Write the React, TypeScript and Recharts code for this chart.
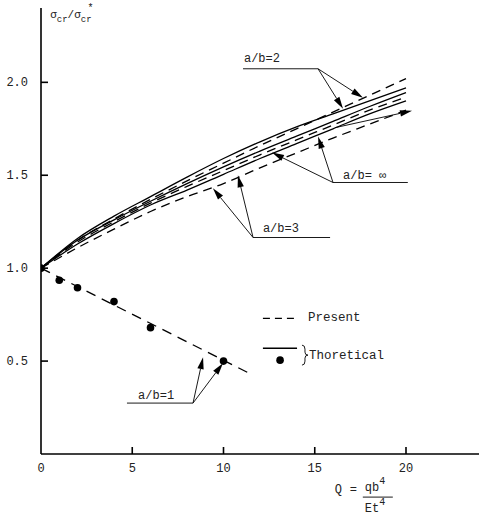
import React from 'react';
import { ComposedChart, Line, Scatter, XAxis, YAxis, ReferenceLine, ReferenceDot } from 'recharts';

// ---- data ----
const qValues = [0, 2, 4, 6, 8, 10, 12, 14, 16, 18, 20];
const ab2Present = [1.0, 1.15, 1.265, 1.37, 1.47, 1.565, 1.66, 1.75, 1.84, 1.93, 2.02];
const ab2Theory = [1.0, 1.16, 1.28, 1.385, 1.49, 1.59, 1.68, 1.76, 1.83, 1.9, 1.97];
const abInfTheory = [1.0, 1.15, 1.26, 1.36, 1.455, 1.545, 1.63, 1.71, 1.79, 1.87, 1.945];
const abInfPresent = [1.0, 1.14, 1.25, 1.35, 1.44, 1.525, 1.61, 1.69, 1.77, 1.85, 1.92];
const ab3Theory = [1.0, 1.13, 1.24, 1.34, 1.42, 1.505, 1.59, 1.67, 1.75, 1.83, 1.9];
const ab3Present = [1.0, 1.11, 1.21, 1.305, 1.385, 1.455, 1.54, 1.62, 1.7, 1.775, 1.85];

const ab1PresentQ = [0, 11.5];
const ab1Present = [1.0, 0.43];
const ab1TheoryQ = [0, 1, 2, 4, 6, 10];
const ab1Theory = [1.0, 0.935, 0.895, 0.82, 0.68, 0.5];

const xTicks = [0, 5, 10, 15, 20];
const yTicks = [0.5, 1.0, 1.5, 2.0];

const curveData = qValues.map((q, i) => ({
  q,
  ab2P: ab2Present[i],
  ab2T: ab2Theory[i],
  abInfT: abInfTheory[i],
  abInfP: abInfPresent[i],
  ab3T: ab3Theory[i],
  ab3P: ab3Present[i],
}));
const ab1LineData = ab1PresentQ.map((q, i) => ({ q, v: ab1Present[i] }));
const ab1DotData = ab1TheoryQ.map((q, i) => ({ q, v: ab1Theory[i] }));

// ---- annotation layout (in chart value units) ----
const FONT = '"Liberation Mono", "DejaVu Sans Mono", monospace';
const INK = '#222';

type Pt = { x: number; y: number };
const underlines: [Pt, Pt][] = [
  [{ x: 11.07, y: 2.073 }, { x: 15.18, y: 2.073 }],
  [{ x: 16.0, y: 1.461 }, { x: 20.1, y: 1.461 }],
  [{ x: 11.62, y: 1.165 }, { x: 15.84, y: 1.165 }],
  [{ x: 4.71, y: 0.274 }, { x: 8.33, y: 0.274 }],
];
const arrows: [Pt, Pt][] = [
  [{ x: 15.18, y: 2.073 }, { x: 17.64, y: 1.917 }],
  [{ x: 15.18, y: 2.073 }, { x: 16.55, y: 1.858 }],
  [{ x: 16.0, y: 1.461 }, { x: 12.66, y: 1.622 }],
  [{ x: 16.0, y: 1.461 }, { x: 15.18, y: 1.708 }],
  [{ x: 16.11, y: 1.756 }, { x: 20.33, y: 1.847 }],
  [{ x: 11.62, y: 1.165 }, { x: 9.42, y: 1.43 }],
  [{ x: 11.62, y: 1.165 }, { x: 10.79, y: 1.5 }],
  [{ x: 8.33, y: 0.274 }, { x: 8.88, y: 0.521 }],
  [{ x: 8.33, y: 0.274 }, { x: 9.97, y: 0.489 }],
];
const labels: { x: number; y: number; text: string }[] = [
  { x: 11.12, y: 2.132, text: 'a/b=2' },
  { x: 16.55, y: 1.5, text: 'a/b= ∞' },
  { x: 12.16, y: 1.214, text: 'a/b=3' },
  { x: 5.32, y: 0.317, text: 'a/b=1' },
];

const Arrow = (props: any) => {
  const { x1, y1, x2, y2 } = props;
  const dx = x2 - x1;
  const dy = y2 - y1;
  const len = Math.hypot(dx, dy) || 1;
  const ux = dx / len;
  const uy = dy / len;
  const L = 12;
  const W = 3.2;
  const bx = x2 - ux * L;
  const by = y2 - uy * L;
  const pts = `${x2},${y2} ${bx - uy * W},${by + ux * W} ${bx + uy * W},${by - ux * W}`;
  return (
    <g>
      <line x1={x1} y1={y1} x2={bx} y2={by} stroke="#000" strokeWidth={0.9} />
      <polygon points={pts} fill="#000" />
    </g>
  );
};

const XTick = (props: any) => {
  const { x, y, payload } = props;
  return (
    <g>
      {payload.value !== 0 && <line x1={x} y1={y} x2={x} y2={y - 7} stroke="#000" strokeWidth={1.6} />}
      <text x={x} y={y + 18} textAnchor="middle" fontFamily={FONT} fontSize={12} fill={INK}>
        {String(payload.value)}
      </text>
    </g>
  );
};

const YTick = (props: any) => {
  const { x, y, payload } = props;
  return (
    <g>
      <line x1={x} y1={y} x2={x + 7} y2={y} stroke="#000" strokeWidth={1.6} />
      <text x={x - 13} y={y + 4} textAnchor="end" fontFamily={FONT} fontSize={12} fill={INK}>
        {Number(payload.value).toFixed(1)}
      </text>
    </g>
  );
};

const Dot = (p: any) => <circle cx={p.cx} cy={p.cy} r={3.8} fill="#000" />;

export default function App() {
  return (
    <div style={{ position: 'absolute', left: 0, top: 0 }}>
      <ComposedChart width={479} height={520} margin={{ top: 8, right: 0, bottom: 0, left: 0 }}>
        <XAxis
          dataKey="q"
          type="number"
          domain={[0, 24]}
          ticks={xTicks}
          interval={0}
          height={66}
          tickLine={false}
          tickSize={0}
          tickMargin={0}
          axisLine={{ stroke: '#000', strokeWidth: 1.6 }}
          tick={<XTick />}
          allowDataOverflow
        />
        <YAxis
          type="number"
          domain={[0, 2.4]}
          ticks={yTicks}
          interval={0}
          width={41}
          tickLine={false}
          tickSize={0}
          tickMargin={0}
          axisLine={{ stroke: '#000', strokeWidth: 1.6 }}
          tick={<YTick />}
          allowDataOverflow
        />

        <Line data={curveData} dataKey="ab2P" type="monotone" stroke="#000" strokeWidth={1.3} strokeDasharray="9 6" dot={false} activeDot={false} isAnimationActive={false} />
        <Line data={curveData} dataKey="ab2T" type="monotone" stroke="#000" strokeWidth={1.3} dot={false} activeDot={false} isAnimationActive={false} />
        <Line data={curveData} dataKey="abInfT" type="monotone" stroke="#000" strokeWidth={1.3} dot={false} activeDot={false} isAnimationActive={false} />
        <Line data={curveData} dataKey="abInfP" type="monotone" stroke="#000" strokeWidth={1.3} strokeDasharray="9 6" dot={false} activeDot={false} isAnimationActive={false} />
        <Line data={curveData} dataKey="ab3T" type="monotone" stroke="#000" strokeWidth={1.3} dot={false} activeDot={false} isAnimationActive={false} />
        <Line data={curveData} dataKey="ab3P" type="monotone" stroke="#000" strokeWidth={1.3} strokeDasharray="9 6" dot={false} activeDot={false} isAnimationActive={false} />

        <Line data={ab1LineData} dataKey="v" type="linear" stroke="#000" strokeWidth={1.3} strokeDasharray="10 7" dot={false} activeDot={false} isAnimationActive={false} />
        <Scatter data={ab1DotData} dataKey="v" shape={Dot} isAnimationActive={false} />

        {underlines.map((seg, i) => (
          <ReferenceLine key={`u${i}`} segment={seg} stroke="#000" strokeWidth={0.9} ifOverflow="visible" />
        ))}
        {arrows.map((seg, i) => (
          <ReferenceLine key={`a${i}`} segment={seg} ifOverflow="visible" shape={Arrow} />
        ))}
        {labels.map((l, i) => (
          <ReferenceDot
            key={`l${i}`}
            x={l.x}
            y={l.y}
            ifOverflow="visible"
            shape={(p: any) => (
              <text x={p.cx} y={p.cy} dy={4} fontFamily={FONT} fontSize={12} fill={INK}>
                {l.text}
              </text>
            )}
          />
        ))}

        {/* legend */}
        <ReferenceLine segment={[{ x: 12.16, y: 0.73 }, { x: 14.03, y: 0.73 }]} stroke="#000" strokeWidth={1.3} strokeDasharray="7 5" ifOverflow="visible" />
        <ReferenceDot
          x={14.63}
          y={0.735}
          ifOverflow="visible"
          shape={(p: any) => (
            <text x={p.cx} y={p.cy} dy={4} fontFamily={FONT} fontSize={12.5} fill={INK}>
              Present
            </text>
          )}
        />
        <ReferenceLine segment={[{ x: 12.16, y: 0.569 }, { x: 14.03, y: 0.569 }]} stroke="#000" strokeWidth={1.3} ifOverflow="visible" />
        <ReferenceDot x={13.1} y={0.505} ifOverflow="visible" shape={Dot} />
        <ReferenceDot
          x={14.3}
          y={0.532}
          ifOverflow="visible"
          shape={(p: any) => {
            const x = p.cx;
            const y = p.cy;
            const d = `M ${x} ${y - 10} Q ${x + 3} ${y - 10} ${x + 3} ${y - 6} L ${x + 3} ${y - 3} Q ${x + 3} ${y} ${x + 6} ${y} Q ${x + 3} ${y} ${x + 3} ${y + 3} L ${x + 3} ${y + 6} Q ${x + 3} ${y + 10} ${x} ${y + 10}`;
            return (
              <g>
                <path d={d} fill="none" stroke="#000" strokeWidth={0.9} />
                <text x={x + 7} y={y} dy={4} fontFamily={FONT} fontSize={12.5} fill={INK}>
                  Thoretical
                </text>
              </g>
            );
          }}
        />

        {/* axis titles */}
        <ReferenceDot
          x={0.5}
          y={2.36}
          ifOverflow="visible"
          shape={(p: any) => (
            <text x={p.cx} y={p.cy} dy={3} fontFamily={FONT} fontSize={11} fill={INK}>
              σ
              <tspan dy={4} fontSize={9}>cr</tspan>
              <tspan dy={-4}>/σ</tspan>
              <tspan dy={4} fontSize={9}>cr</tspan>
              <tspan dx={-4} dy={-11} fontSize={10}>*</tspan>
            </text>
          )}
        />
        <ReferenceDot
          x={16.1}
          y={-0.205}
          ifOverflow="visible"
          shape={(p: any) => (
            <g fontFamily={FONT} fill={INK}>
              <text x={p.cx} y={p.cy} dy={1} fontSize={12}>Q</text>
              <text x={p.cx + 15} y={p.cy} dy={1} fontSize={12}>=</text>
              <text x={p.cx + 30} y={p.cy} dy={-1} fontSize={12}>
                qb<tspan dy={-7} fontSize={10}>4</tspan>
              </text>
              <line x1={p.cx + 28} y1={p.cy + 5} x2={p.cx + 58} y2={p.cy + 5} stroke="#000" strokeWidth={0.9} />
              <text x={p.cx + 30} y={p.cy + 20} fontSize={12}>
                Et<tspan dy={-7} fontSize={10}>4</tspan>
              </text>
            </g>
          )}
        />
      </ComposedChart>
    </div>
  );
}
